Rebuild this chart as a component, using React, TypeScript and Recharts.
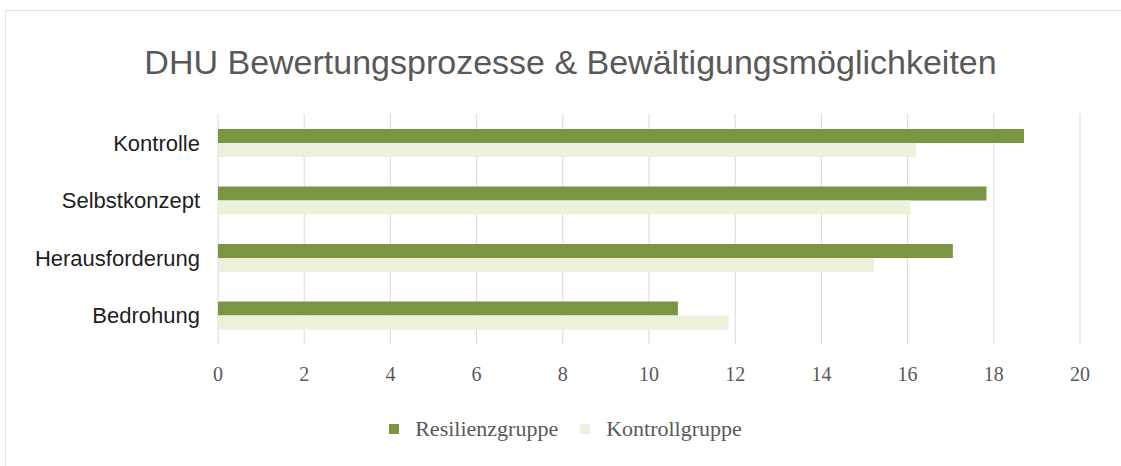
import { Bar, BarChart, CartesianGrid, Legend, XAxis, YAxis } from "recharts";

const categories = ["Kontrolle", "Selbstkonzept", "Herausforderung", "Bedrohung"];
const resilienzgruppe = [18.7, 17.83, 17.05, 10.67];
const kontrollgruppe = [16.19, 16.06, 15.22, 11.85];
const xTicks = [0, 2, 4, 6, 8, 10, 12, 14, 16, 18, 20];

const data = categories.map((name, i) => ({
  name,
  Resilienzgruppe: resilienzgruppe[i],
  Kontrollgruppe: kontrollgruppe[i],
}));

const DARK = "#7b9643";
const LIGHT = "#edf1dc";

function LegendContent() {
  const items = [
    { label: "Resilienzgruppe", color: DARK },
    { label: "Kontrollgruppe", color: LIGHT },
  ];
  return (
    <div style={{ display: "flex", justifyContent: "center", gap: 22, fontFamily: "'Liberation Serif', serif", fontSize: 22, color: "#595959", paddingLeft: 10 }}>
      {items.map((it) => (
        <div key={it.label} style={{ display: "flex", alignItems: "center" }}>
          <span style={{ width: 10, height: 10, background: it.color, display: "inline-block", marginRight: 16 }} />
          <span>{it.label}</span>
        </div>
      ))}
    </div>
  );
}

export default function App() {
  return (
    <div style={{ position: "absolute", left: 0, top: 0, width: 1121, height: 466, background: "#fff" }}>
      <div style={{ position: "absolute", left: 5, top: 10, right: 0, bottom: 0, borderTop: "1px solid #e2e2e2", borderLeft: "1px solid #e2e2e2" }} />
      <div
        style={{
          position: "absolute",
          top: 43,
          left: 0,
          width: 1141,
          textAlign: "center",
          fontFamily: "'Liberation Sans', Arial, sans-serif",
          fontSize: 34,
          color: "#595959",
        }}
      >
        DHU Bewertungsprozesse &amp; Bewältigungsmöglichkeiten
      </div>
      <div style={{ position: "absolute", left: 0, top: 0 }}>
        <BarChart
          width={1121}
          height={466}
          data={data}
          layout="vertical"
          margin={{ top: 114, right: 41, bottom: 56, left: 0 }}
          barCategoryGap="26%"
          barGap={0}
        >
          <CartesianGrid horizontal={false} stroke="#d9d9d9" />
          <XAxis
            type="number"
            domain={[0, 20]}
            ticks={xTicks}
            axisLine={false}
            tickLine={false}
            tickMargin={17}
            height={40}
            tick={{ fill: "#595959", fontSize: 20, fontFamily: "'Liberation Serif', serif" }}
          />
          <YAxis
            type="category"
            dataKey="name"
            width={218}
            axisLine={false}
            tickLine={false}
            tickMargin={12}
            tick={{ fill: "#1e1e1e", fontSize: 22, fontFamily: "'Liberation Sans', Arial, sans-serif" }}
          />
          <Legend
            content={<LegendContent />}
            wrapperStyle={{ top: 416, left: 0, width: 1121 }}
          />
          <Bar dataKey="Resilienzgruppe" fill={DARK} isAnimationActive={false} />
          <Bar dataKey="Kontrollgruppe" fill={LIGHT} isAnimationActive={false} />
        </BarChart>
      </div>
    </div>
  );
}
